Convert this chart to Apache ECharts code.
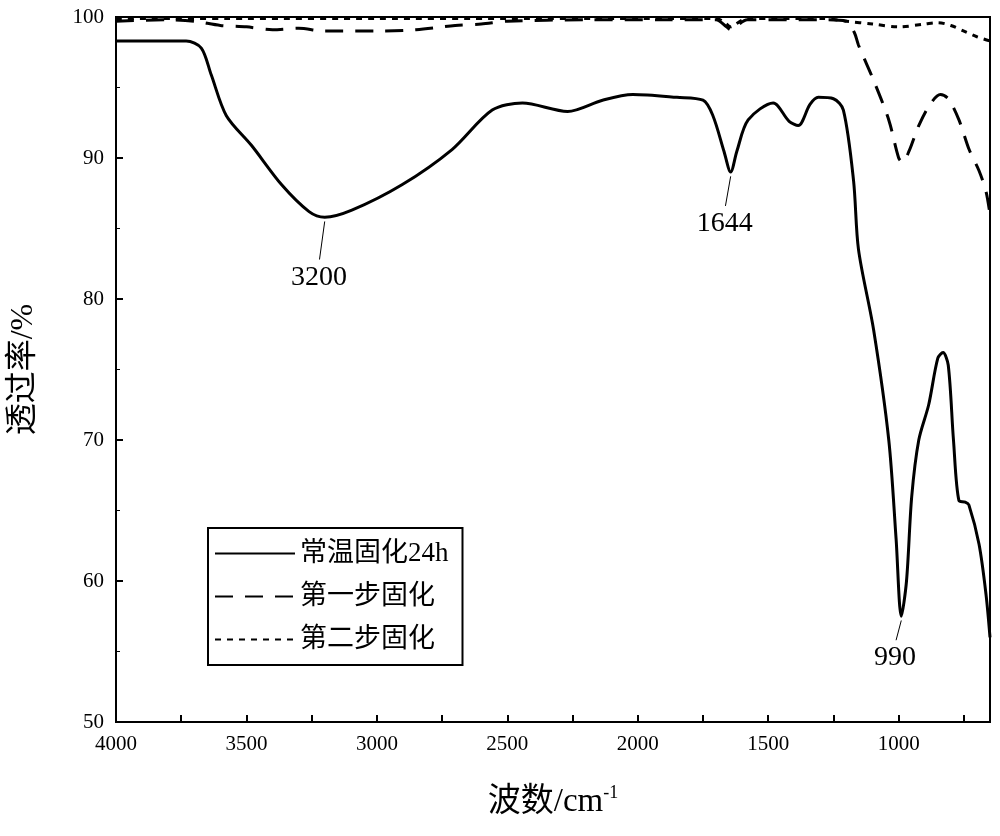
<!DOCTYPE html>
<html>
<head>
<meta charset="utf-8">
<script src="https://cdn.jsdelivr.net/npm/echarts@6/dist/echarts.min.js"></script>
<style>html,body{margin:0;padding:0;background:#fff}#main{width:1000px;height:836px}</style>
</head>
<body>
<div id="main"></div>
<script>
// 常温固化24h
var solid = [[4000,98.3],[3731,98.3],[3673,97.8],[3635,95.9],[3577,93.0],[3481,90.9],[3365,88.1],[3260,86.2],[3200,85.8],
  [3096,86.3],[2904,88.1],[2712,90.6],[2558,93.4],[2442,93.9],[2269,93.3],[2135,94.1],[2019,94.5],[1850,94.3],[1750,94.1],
  [1712,93.0],[1670,90.5],[1644,89.0],[1620,90.5],[1577,92.7],[1481,93.9],[1420,92.6],[1385,92.3],[1340,93.8],[1308,94.3],
  [1250,94.2],[1212,93.4],[1173,88.4],[1154,83.5],[1096,77.8],[1038,70.0],[1010,63.0],[990,57.5],[970,60.0],[950,66.0],
  [923,70.0],[885,72.5],[850,75.8],[830,76.2],[810,75.3],[790,70.0],[769,65.7],[745,65.6],[731,65.4],[692,62.6],[665,59.0],[650,56.0]];
// 第一步固化
var dashed = [[4000,99.7],[3800,99.8],[3700,99.7],[3600,99.4],[3500,99.3],[3400,99.1],[3300,99.2],[3200,99.0],[3000,99.0],
  [2850,99.1],[2700,99.4],[2600,99.5],[2500,99.7],[2200,99.8],[1900,99.8],[1700,99.8],[1660,99.3],[1644,99.1],[1625,99.3],
  [1580,99.8],[1300,99.8],[1200,99.7],[1170,98.9],[1154,98.0],[1096,95.5],[1038,92.7],[1000,90.0],[985,89.7],[960,90.5],
  [923,92.3],[880,93.8],[840,94.5],[810,94.2],[769,92.7],[730,90.6],[692,89.1],[665,87.6],[650,86.0]];
// 第二步固化
var dotted = [[4000,99.9],[3500,99.9],[3000,99.9],[2500,99.9],[2000,99.9],[1700,99.9],[1660,99.5],[1644,99.3],[1625,99.5],
  [1580,99.9],[1300,99.9],[1200,99.7],[1100,99.5],[1000,99.3],[900,99.5],[850,99.6],[800,99.4],[750,99.0],[700,98.6],[650,98.3]];
var peaks = [[3200,85.8,82.8],[1644,89.0,86.6],[990,57.5,55.8]];
var xLabels = [1000,1500,2000,2500,3000,3500,4000];
var xTicks = [750,1000,1250,1500,1750,2000,2250,2500,2750,3000,3250,3500,3750,4000];

var chart = echarts.init(document.getElementById('main'));
var font = 'Liberation Serif, Noto Sans CJK SC, serif';

var markData = peaks.map(function (p) {
    return [{coord: [p[0], p[1] - 0.3]}, {coord: [p[0] + 20, p[2]], label: {formatter: String(p[0])}}];
});

chart.setOption({
    backgroundColor: '#fff',
    animation: false,
    grid: {left: 115, right: 10, top: 17, bottom: 114, show: true, borderColor: '#000', borderWidth: 2},
    legend: {
        left: 208, top: 528, orient: 'vertical', itemWidth: 80, itemHeight: 14, itemGap: 16,
        padding: [12, 14, 12, 6],
        borderColor: '#000', borderWidth: 2, backgroundColor: '#fff',
        itemStyle: {color: 'rgba(0,0,0,0)', borderWidth: 0},
        textStyle: {fontFamily: font, fontSize: 27, color: '#000'},
        data: ['常温固化24h', '第一步固化', '第二步固化']
    },
    xAxis: {
        type: 'value', inverse: true, min: 650, max: 4000,
        axisLine: {lineStyle: {color: '#000', width: 2}},
        axisTick: {inside: true, length: 7, customValues: xTicks, lineStyle: {width: 2}},
        axisLabel: {customValues: xLabels, color: '#000', fontFamily: font, fontSize: 21, margin: 12,
            formatter: function (v) { return String(v); }},
        splitLine: {show: false},
        name: '{a|波数/cm}{s|-1}', nameLocation: 'middle', nameGap: 62,
        nameTextStyle: {rich: {a: {fontFamily: font, fontSize: 33, color: '#000'}, s: {fontFamily: font, fontSize: 18, color: '#000', verticalAlign: 'top', padding: [0, 0, 18, 0]}}}
    },
    yAxis: {
        type: 'value', min: 50, max: 100, interval: 10,
        axisLine: {lineStyle: {color: '#000', width: 2}},
        axisTick: {inside: true, length: 7, lineStyle: {width: 2}},
        minorTick: {show: true, splitNumber: 2, length: 4},
        axisLabel: {color: '#000', fontFamily: font, fontSize: 21, margin: 12},
        splitLine: {show: false},
        name: '透过率/%', nameLocation: 'middle', nameGap: 76,
        nameTextStyle: {fontFamily: font, fontSize: 32, color: '#000'}
    },
    series: [
        {
            name: '常温固化24h', type: 'line', data: solid, smooth: 0.3, symbol: 'none',
            lineStyle: {color: '#000', width: 3},
            itemStyle: {color: '#000'},
            markLine: {
                symbol: 'none', silent: true,
                lineStyle: {color: '#000', width: 1, type: 'solid'},
                label: {position: 'end', color: '#000', fontFamily: font, fontSize: 28, distance: 4},
                data: markData
            }
        },
        {
            name: '第一步固化', type: 'line', data: dashed, smooth: 0.3, symbol: 'none',
            lineStyle: {color: '#000', width: 3, type: [18, 12]}, itemStyle: {color: '#000'}
        },
        {
            name: '第二步固化', type: 'line', data: dotted, smooth: 0.3, symbol: 'none',
            lineStyle: {color: '#000', width: 3, type: [6, 6]}, itemStyle: {color: '#000'}
        }
    ]
});
</script>
</body>
</html>
